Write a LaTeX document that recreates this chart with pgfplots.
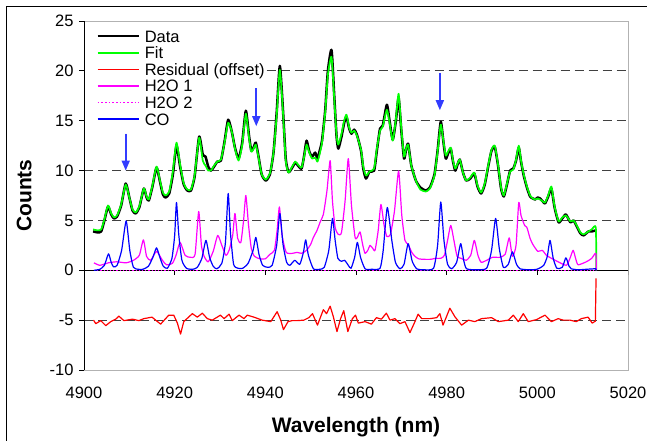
\documentclass[border=0pt]{standalone}
\usepackage{pgfplots}
\pgfplotsset{compat=1.18}
\usepackage{fontspec}
\setmainfont{Liberation Sans}
\usetikzlibrary{arrows.meta}
\definecolor{arrowblue}{RGB}{50,60,255}
\definecolor{cGreen}{RGB}{0,255,0}
\definecolor{cRed}{RGB}{255,0,0}
\definecolor{cMag}{RGB}{255,0,255}
\definecolor{cBlue}{RGB}{0,0,255}
\begin{document}
\begin{tikzpicture}
\begin{axis}[
  at={(84pt,71pt)}, anchor=south west,
  scale only axis, width=544pt, height=349pt,
  xmin=4900, xmax=5020, ymin=-10, ymax=25,
  xtick={4900,4920,...,5020}, ytick={-10,-5,...,25},
  axis line style={draw=gray!60, line width=0.8pt},
  tick align=outside, major tick length=5pt,
  xtick style={draw=none}, ytick style={draw=black, line width=0.8pt},
  xtick pos=left, ytick pos=left,
  /pgf/number format/assume math mode=true,
  /pgf/number format/1000 sep={},
  tick label style={font=\fontsize{16.5}{19}\selectfont},
  xticklabel style={yshift=-8pt},
  yticklabel style={xshift=-2pt},
  xlabel={Wavelength (nm)}, ylabel={Counts},
  label style={font=\bfseries\fontsize{21}{24}\selectfont},
  xlabel style={at={(axis description cs:0.5,-0.163)}, anchor=center},
  ylabel style={at={(axis description cs:-0.110,0.5)}, anchor=center},
  legend cell align=left,
  legend style={at={(axis description cs:0,1)}, anchor=north west, xshift=4pt, yshift=-4.7pt,
    draw=none, fill=none, inner xsep=8pt, inner ysep=2pt, row sep=0pt, column sep=5pt,
    font=\fontsize{16.5}{19}\selectfont,
    nodes={inner sep=0pt, text height=14.2pt, text depth=2.4pt}},
  legend image code/.code={\draw[#1] (0pt,0pt) -- (41pt,0pt);},
]
\pgfplotsinvokeforeach{-10,-5,5,10}{
  \draw[draw=black!75, line width=0.8pt, dash pattern=on 9pt off 5pt] (axis cs:4900,#1) -- (axis cs:5020,#1);
}
\pgfplotsinvokeforeach{15,20}{
  \draw[draw=black!75, line width=0.8pt, dash pattern=on 9pt off 5pt] (axis cs:4940.3,#1) -- (axis cs:5020,#1);
}
\draw[draw=black, line width=0.8pt] (axis cs:4900,-10) -- (axis cs:4900,25);
\draw[draw=black, line width=0.8pt] (axis cs:4900,0) -- (axis cs:5020,0);
\pgfplotsinvokeforeach{4920,4940,4960,4980,5000,5020}{
  \draw[draw=black, line width=0.8pt] (axis cs:#1,0) -- ++(0pt,-5pt);
}

% Data
\addplot[forget plot, draw=black, line width=2.5pt, line join=round, smooth, tension=0.35] coordinates {
(4902.0,3.9)(4903.0,3.8)(4903.8,3.9)(4904.5,5.0)(4905.3,6.4)(4906.0,5.6)(4906.6,5.2)(4907.3,5.4)
(4908.2,6.5)(4909.2,8.7)(4910.0,7.3)(4910.7,6.0)(4911.4,5.7)(4912.2,6.3)(4913.2,8.2)(4913.8,7.3)
(4914.3,7.0)(4915.1,8.4)(4916.0,10.3)(4916.8,8.8)(4917.4,7.6)(4918.0,7.3)(4918.8,7.7)(4919.6,9.6)
(4920.4,12.5)(4921.2,10.4)(4922.0,8.6)(4922.8,8.0)(4923.6,8.0)(4924.4,9.4)(4925.4,13.4)(4926.2,11.6)
(4926.8,11.4)(4927.4,10.4)(4928.0,10.0)(4928.7,10.4)(4929.4,10.9)(4930.2,11.0)(4931.0,12.9)(4931.8,15.1)
(4932.6,13.9)(4933.3,12.3)(4934.1,11.2)(4934.9,12.8)(4935.7,16.0)(4936.4,13.5)(4936.9,12.0)(4937.4,12.3)
(4937.9,12.8)(4938.5,11.4)(4939.2,9.6)(4940.1,9.0)(4941.0,9.6)(4941.8,11.8)(4942.5,15.8)(4943.2,20.5)
(4943.9,16.0)(4944.5,11.2)(4945.1,9.85)(4945.8,10.2)(4946.6,10.8)(4947.2,10.5)(4948.0,10.2)(4948.6,11.6)
(4949.1,13.0)(4949.7,11.9)(4950.3,11.4)(4951.0,11.8)(4951.5,11.2)(4952.0,12.0)(4952.5,13.0)(4953.2,16.0)
(4953.8,20.0)(4954.6,22.1)(4955.2,17.5)(4955.7,13.5)(4956.1,12.2)(4956.8,13.4)(4957.4,14.8)(4957.9,15.4)
(4958.5,14.2)(4959.0,13.7)(4959.6,14.1)(4960.2,13.6)(4961.1,12.0)(4961.6,10.2)(4962.2,9.2)(4963.0,9.9)
(4964.0,10.0)(4964.6,12.0)(4965.3,14.2)(4965.9,14.5)(4966.8,16.6)(4967.4,15.0)(4968.1,13.1)(4968.8,15.0)
(4969.4,17.3)(4970.0,14.0)(4970.6,11.2)(4971.0,12.0)(4971.5,12.7)(4972.2,10.5)(4973.2,9.0)(4974.2,8.3)
(4975.4,8.0)(4976.3,8.3)(4977.3,9.6)(4978.0,12.0)(4978.7,14.9)(4979.3,12.8)(4979.8,11.2)(4980.3,11.7)
(4980.9,12.2)(4981.4,10.9)(4981.9,10.0)(4982.4,10.6)(4982.9,11.1)(4983.6,9.8)(4984.3,9.0)(4985.2,9.2)
(4986.1,9.7)(4986.8,8.4)(4987.6,7.7)(4988.4,8.6)(4989.2,10.5)(4989.9,12.0)(4990.6,12.4)(4991.3,10.6)
(4992.0,8.2)(4992.6,7.4)(4993.3,8.6)(4994.0,10.0)(4994.7,10.2)(4995.3,11.0)(4995.9,12.3)(4996.4,10.9)
(4997.0,9.5)(4997.7,8.3)(4998.4,7.4)(4999.0,7.2)(4999.5,7.1)(5000.1,7.3)(5000.6,7.2)(5001.2,6.9)
(5001.7,6.7)(5002.4,7.4)(5003.1,8.2)(5003.8,6.3)(5004.7,4.8)(5005.5,5.2)(5006.3,5.6)(5007.3,4.8)
(5008.0,5.0)(5008.8,4.3)(5009.5,3.7)(5010.2,3.5)(5011.3,3.9)(5012.0,3.9)(5012.9,4.0)
};
% Fit
\addplot[forget plot, draw=cGreen, line width=1.7pt, line join=round, smooth, tension=0.35] coordinates {
(4902.0,4.1)(4903.0,4.0)(4903.8,4.1)(4904.5,5.1)(4905.3,6.5)(4906.0,5.7)(4906.6,5.3)(4907.3,5.5)
(4908.2,6.6)(4909.2,8.6)(4910.0,7.3)(4910.7,6.1)(4911.4,5.8)(4912.2,6.4)(4913.2,8.2)(4913.8,7.4)
(4914.3,7.1)(4915.1,8.5)(4916.0,10.4)(4916.8,8.9)(4917.4,7.8)(4918.0,7.5)(4918.8,7.9)(4919.6,9.9)
(4920.4,12.8)(4921.2,10.6)(4922.0,8.7)(4922.8,8.1)(4923.6,8.1)(4924.4,9.5)(4925.4,13.3)(4926.2,11.0)
(4926.8,10.5)(4927.4,10.0)(4928.0,10.0)(4928.7,10.5)(4929.4,10.9)(4930.2,11.1)(4931.0,12.8)(4931.8,14.8)
(4932.6,13.9)(4933.3,12.2)(4934.1,11.0)(4934.9,12.6)(4935.7,15.7)(4936.4,13.3)(4936.9,11.9)(4937.4,12.2)
(4937.9,12.6)(4938.5,11.3)(4939.2,9.6)(4940.1,9.1)(4941.0,9.7)(4941.8,11.8)(4942.5,15.5)(4943.2,20.1)
(4943.9,15.8)(4944.5,11.0)(4945.1,9.8)(4945.8,10.3)(4946.6,10.9)(4947.2,10.6)(4948.0,10.3)(4948.6,11.5)
(4949.1,12.6)(4949.7,11.8)(4950.3,11.2)(4951.0,11.3)(4951.5,10.9)(4952.0,11.7)(4952.5,12.8)(4953.2,15.8)
(4953.8,19.6)(4954.6,21.4)(4955.2,17.2)(4955.7,13.6)(4956.1,12.6)(4956.8,13.7)(4957.4,15.0)(4957.9,15.6)
(4958.5,14.3)(4959.0,13.8)(4959.6,14.0)(4960.2,13.5)(4961.1,12.1)(4961.6,10.4)(4962.2,9.5)(4963.0,9.9)
(4964.0,10.2)(4964.6,12.2)(4965.3,14.0)(4965.9,14.4)(4966.8,16.1)(4967.4,14.8)(4968.1,13.0)(4968.8,15.2)
(4969.4,17.7)(4970.0,14.2)(4970.6,11.4)(4971.0,12.1)(4971.5,12.6)(4972.2,10.5)(4973.2,9.0)(4974.2,8.1)
(4975.4,7.9)(4976.3,8.2)(4977.3,9.5)(4978.0,11.9)(4978.7,14.6)(4979.3,12.9)(4979.8,11.5)(4980.3,11.9)
(4980.9,12.3)(4981.4,11.0)(4981.9,10.2)(4982.4,10.7)(4982.9,11.1)(4983.6,9.8)(4984.3,9.0)(4985.2,9.3)
(4986.1,9.8)(4986.8,8.5)(4987.6,7.8)(4988.4,8.7)(4989.2,10.6)(4989.9,12.1)(4990.6,12.5)(4991.3,10.7)
(4992.0,8.3)(4992.6,7.5)(4993.3,8.7)(4994.0,9.9)(4994.7,10.1)(4995.3,11.1)(4995.9,12.5)(4996.4,11.0)
(4997.0,9.6)(4997.7,8.4)(4998.4,7.5)(4999.0,7.2)(4999.5,7.1)(5000.1,7.2)(5000.6,7.1)(5001.2,6.9)
(5001.7,6.8)(5002.4,7.5)(5003.1,8.4)(5003.8,6.4)(5004.7,4.9)(5005.5,5.3)(5006.3,5.5)(5007.3,4.9)
(5008.0,5.0)(5008.8,4.4)(5009.5,3.8)(5010.2,3.6)(5011.3,3.9)(5012.0,4.1)(5012.9,4.3)(5013.0,0)
};
% Residual
\addplot[forget plot, draw=cRed, line width=1.2pt, line join=round] coordinates {
(4902.1,-5.0)(4902.6,-5.35)(4903.7,-5.05)(4904.8,-5.55)(4905.9,-5.15)(4907.0,-4.9)(4907.7,-4.6)
(4908.8,-5.05)(4910.7,-4.9)(4912.1,-5.05)(4913.2,-4.85)(4915.0,-4.7)(4916.9,-5.4)(4918.7,-4.5)
(4919.8,-4.5)(4920.6,-5.3)(4921.3,-6.4)(4922.0,-5.15)(4923.9,-4.35)(4925.0,-4.7)(4926.1,-4.3)
(4927.2,-4.85)(4928.3,-5.0)(4930.1,-4.5)(4930.9,-4.85)(4932.0,-4.4)(4932.7,-5.05)(4934.2,-4.5)
(4935.3,-4.85)(4936.0,-4.5)(4937.5,-4.7)(4939.3,-5.0)(4941.2,-5.15)(4942.6,-4.15)(4943.4,-5.0)
(4944.0,-5.95)(4945.0,-5.15)(4945.9,-5.05)(4947.0,-5.05)(4948.5,-5.0)(4949.6,-4.75)(4950.4,-4.35)
(4951.5,-5.5)(4952.8,-3.95)(4953.5,-4.35)(4954.3,-3.6)(4955.0,-4.65)(4955.8,-6.15)(4956.6,-4.85)
(4957.3,-4.05)(4958.2,-6.15)(4959.2,-4.85)(4959.9,-4.5)(4960.5,-5.3)(4962.0,-5.15)(4963.4,-5.4)
(4964.5,-4.75)(4965.6,-4.9)(4966.7,-4.3)(4967.5,-5.0)(4968.6,-4.85)(4969.7,-5.35)(4970.8,-5.15)
(4971.9,-6.25)(4973.0,-5.15)(4973.7,-4.4)(4974.5,-4.85)(4976.3,-4.85)(4977.8,-4.75)(4978.5,-4.35)
(4979.2,-5.5)(4980.7,-3.8)(4981.8,-4.65)(4983.3,-5.5)(4984.8,-5.0)(4986.2,-5.15)(4987.7,-4.85)
(4989.9,-4.75)(4991.4,-5.15)(4993.6,-5.0)(4994.7,-4.5)(4995.8,-5.15)(4996.9,-4.35)(4998.0,-5.15)
(4999.8,-4.95)(5001.7,-4.5)(5003.1,-5.15)(5004.6,-4.85)(5005.7,-5.0)(5007.2,-5.0)(5008.6,-5.15)
(5009.7,-4.85)(5011.2,-4.7)(5012.1,-5.3)(5012.8,-5.1)(5012.95,-0.8)
};
% H2O 1
\addplot[forget plot, draw=cMag, line width=1.2pt, line join=round, smooth, tension=0.35] coordinates {
(4902.2,0.75)(4903.5,0.5)(4905.4,0.75)(4907.2,0.85)(4909.3,0.75)(4910.9,1.0)(4912.2,1.5)(4913.1,3.05)
(4913.8,1.4)(4914.7,1.0)(4916.0,1.9)(4917.3,1.0)(4918.2,0.55)(4919.5,0.7)(4920.3,1.5)(4921.2,2.8)
(4922.3,1.5)(4923.5,1.3)(4924.5,1.6)(4925.3,5.9)(4925.9,2.5)(4926.5,1.4)(4927.4,0.85)(4928.5,1.9)
(4929.5,3.5)(4930.4,2.5)(4931.3,1.5)(4932.0,2.0)(4932.8,3.5)(4933.3,5.7)(4933.9,3.2)(4934.6,2.8)
(4935.2,5.0)(4935.7,7.5)(4936.3,4.5)(4936.9,2.2)(4937.6,1.4)(4938.8,1.15)(4940.0,1.15)(4941.0,1.6)
(4942.0,2.0)(4942.6,4.0)(4943.1,6.35)(4943.7,3.5)(4944.6,1.8)(4946.0,1.7)(4947.0,1.8)(4948.0,1.7)
(4949.1,2.0)(4950.0,2.6)(4950.6,3.3)(4951.4,4.0)(4952.1,4.85)(4952.8,5.6)(4953.6,8.0)(4954.3,11.0)
(4954.8,7.0)(4955.4,4.3)(4956.1,3.6)(4956.8,3.8)(4957.6,7.0)(4958.3,11.2)(4959.0,6.5)(4959.8,3.3)
(4960.3,3.3)(4960.9,3.85)(4961.5,2.5)(4962.0,1.7)(4962.6,2.0)(4963.1,2.5)(4963.7,2.2)(4964.2,2.0)
(4964.9,4.0)(4965.5,6.6)(4966.2,4.5)(4966.8,3.4)(4967.6,3.6)(4968.5,6.0)(4969.4,9.96)(4970.1,5.5)
(4970.8,3.0)(4971.5,2.6)(4972.3,1.8)(4973.0,1.4)(4973.8,1.15)(4975.0,1.1)(4976.5,1.1)(4977.6,1.2)
(4978.7,1.2)(4979.5,1.5)(4980.2,3.0)(4980.9,4.5)(4981.6,3.0)(4982.3,1.4)(4983.2,1.2)(4984.3,1.0)
(4985.3,1.5)(4986.1,3.0)(4986.9,1.5)(4987.6,0.8)(4988.8,1.0)(4990.1,1.3)(4991.7,1.3)(4992.9,1.6)
(4993.8,3.25)(4994.5,1.4)(4995.3,2.5)(4995.9,6.8)(4996.4,5.5)(4997.2,4.5)(4997.7,4.3)(4998.4,3.2)
(4999.0,2.6)(5000.1,1.9)(5001.1,2.0)(5002.0,1.5)(5002.7,1.3)(5004.6,0.85)(5006.4,0.5)(5007.2,1.2)
(5007.9,2.0)(5008.5,1.1)(5009.0,0.55)(5010.8,0.85)(5012.0,1.2)(5012.9,1.7)(5013.0,0)
};
% H2O 2
\addplot[forget plot, draw=cMag, line width=1.2pt, dotted] coordinates {
(4902.2,0)(4920,0)(4940,0)(4960,0)(4980,0)(5000,0)(5013.0,0)
};
% CO
\addplot[forget plot, draw=cBlue, line width=1.2pt, line join=round, smooth, tension=0.35] coordinates {
(4902.2,0)(4903.5,0.1)(4904.5,0.5)(4905.4,1.65)(4906.0,0.8)(4906.5,0.35)(4907.3,0.5)(4908.3,2.0)
(4909.3,4.95)(4910.1,2.0)(4910.9,0.3)(4912.0,0.1)(4913.0,0.1)(4914.2,0.4)(4915.2,1.3)(4916.0,2.25)
(4916.8,1.2)(4917.5,0.4)(4918.4,0.2)(4919.4,1.2)(4920.0,3.5)(4920.4,6.8)(4920.9,3.6)(4921.6,1.0)
(4922.6,0.2)(4924.0,0.1)(4925.0,0.3)(4926.0,1.2)(4926.9,3.0)(4927.7,1.3)(4928.5,0.4)(4929.3,0.15)
(4930.4,0.7)(4931.2,2.8)(4931.8,7.7)(4932.3,3.8)(4933.0,0.6)(4934.0,0.2)(4935.0,0.2)(4936.2,0.7)
(4937.3,2.0)(4937.9,3.3)(4938.6,1.6)(4939.4,0.5)(4940.5,0.3)(4941.5,0.5)(4942.5,2.5)(4943.2,5.7)
(4943.9,2.6)(4944.7,0.8)(4945.4,0.5)(4946.5,1.0)(4947.6,0.6)(4948.4,1.8)(4948.9,3.05)(4949.5,1.5)
(4950.6,0.15)(4952.0,0.1)(4953.0,0.3)(4954.0,2.0)(4954.8,5.2)(4955.4,3.0)(4956.0,1.2)(4956.8,0.9)
(4957.5,1.0)(4958.3,0.5)(4958.9,0.2)(4959.7,1.3)(4960.3,2.8)(4961.0,1.3)(4962.0,0.15)(4963.5,0.1)
(4965.3,0.2)(4966.0,2.0)(4966.9,6.3)(4967.9,3.0)(4968.7,0.8)(4969.7,0.15)(4970.6,0.6)(4971.5,2.67)
(4972.4,0.9)(4973.4,0.15)(4975.0,0.05)(4977.1,0.2)(4978.0,2.5)(4978.7,6.85)(4979.4,3.0)(4980.2,0.6)
(4981.1,0.15)(4982.2,0.8)(4983.1,2.67)(4983.8,0.9)(4984.4,0.15)(4986.5,0.05)(4988.8,0.2)(4989.9,2.0)
(4990.8,5.2)(4991.6,2.2)(4992.5,0.3)(4993.6,0.6)(4994.5,1.85)(4995.4,0.6)(4996.2,0.15)(4998.0,0.05)
(4999.9,0.1)(5001.4,0.5)(5002.2,1.4)(5002.8,3.0)(5003.5,1.2)(5004.3,0.2)(5005.5,0.3)(5006.3,1.25)
(5007.0,0.4)(5007.5,0.15)(5009.0,0.05)(5010.8,0.1)(5012.9,0.15)(5013.0,0)
};

\addlegendimage{draw=black, line width=2.6pt}
\addlegendentry{Data}
\addlegendimage{draw=cGreen, line width=1.8pt}
\addlegendentry{Fit}
\addlegendimage{draw=cRed, line width=1.7pt}
\addlegendentry{Residual (offset)}
\addlegendimage{draw=cMag, line width=1.7pt}
\addlegendentry{H2O 1}
\addlegendimage{draw=cMag, line width=1.7pt, dotted}
\addlegendentry{H2O 2}
\addlegendimage{draw=cBlue, line width=1.7pt}
\addlegendentry{CO}

\draw[draw=arrowblue, fill=arrowblue, line width=1.6pt, -{Triangle[width=8pt,length=10pt]}] (axis cs:4909.2,13.7) -- (axis cs:4909.2,10.0);
\draw[draw=arrowblue, fill=arrowblue, line width=1.6pt, -{Triangle[width=8pt,length=10pt]}] (axis cs:4938.0,18.25) -- (axis cs:4938.0,14.45);
\draw[draw=arrowblue, fill=arrowblue, line width=1.6pt, -{Triangle[width=8pt,length=10pt]}] (axis cs:4978.5,19.8) -- (axis cs:4978.5,16.05);
\end{axis}
\draw[draw=black, line width=1.2pt] (6.5pt,-20pt) rectangle (680pt,434.5pt);
\pgfresetboundingbox
\useasboundingbox (0,0) rectangle (647pt,441pt);
\end{tikzpicture}
\end{document}
